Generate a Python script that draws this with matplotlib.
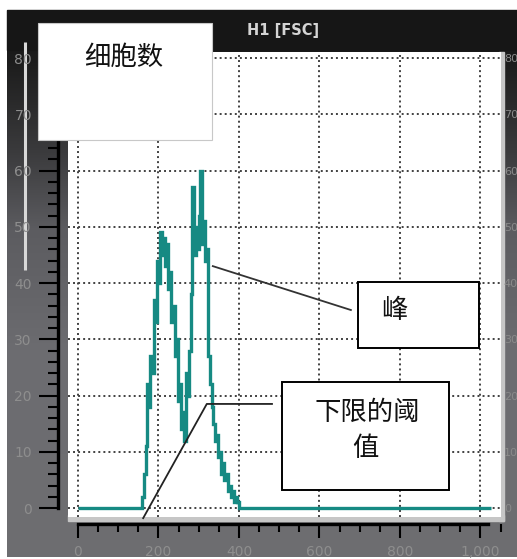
import matplotlib.pyplot as plt
import numpy as np
from matplotlib.patches import Rectangle
from matplotlib.ticker import MultipleLocator, FuncFormatter
from matplotlib.colors import to_rgb

# FSC histogram: 4-channel bins, counts per bin
bin_left = list(range(160, 404, 4))
counts = [2, 6, 11, 22, 18, 27, 24, 37, 33, 44, 40, 49, 45, 48, 43, 47,
          39, 42, 33, 36, 27, 30, 19, 22, 14, 17, 12, 24, 20, 28, 38, 57,
          45, 50, 46, 52, 60, 47, 51, 44, 46, 27, 22, 18, 15, 12, 13, 9,
          10, 6, 8, 5, 6, 3, 4, 2, 3, 1, 2, 1, 0]
channel_max = 1025
x_ticks = [0, 200, 400, 600, 800, 1000]
y_ticks = [0, 10, 20, 30, 40, 50, 60, 70, 80]

# annotation anchors (data units)
threshold_ch = 162
threshold_corner = (320, 18.5)
peak_point = (335, 43)

cjk = ['Noto Sans CJK SC', 'DejaVu Sans']
teal = '#168a83'

W, H = 517, 559
fig = plt.figure(figsize=(W / 100, H / 100), dpi=100)
fig.patch.set_facecolor('white')

# window chrome in pixel coordinates
bg = fig.add_axes([0, 0, 1, 1])
bg.set_xlim(0, W)
bg.set_ylim(H, 0)
bg.axis('off')
stops_y = [10, 60, 150, 230, 350, 557]
stops_c = ['#141414', '#1c1c1c', '#3a3a3c', '#5c5c60', '#6c6c70', '#6e6e70']
ys = np.arange(10, 557)
rgb = np.array([to_rgb(c) for c in stops_c])
grad = np.stack([np.interp(ys, stops_y, rgb[:, k]) for k in range(3)], axis=-1)
bg.imshow(grad[:, None, :], extent=(7, W, 557, 10), aspect='auto', zorder=0)
bg.add_patch(Rectangle((7, 10), W - 7, 40, color='#161616', zorder=1))
bg.plot([25, 25], [42, 270], color='#d8d8d8', lw=2.2, solid_capstyle='butt', zorder=1)
bg.add_patch(Rectangle((68, 515), 436, 6, color='#c6c6c6', zorder=1))
bg.add_patch(Rectangle((499, 52), 5, 469, color='#c6c6c6', zorder=1))
bg.text(283, 31, 'H1 [FSC]', color='#d4d4d4', fontsize=10.5, fontweight='bold',
        ha='center', va='center', zorder=2)

# histogram axes
ax = fig.add_axes([68 / W, 1 - 517 / H, 433 / W, 465 / H])
ax.set_facecolor('white')
ax.set_xlim(-24.8, 1051)
ax.set_ylim(-1.6, 81.07)

edges = [0] + bin_left + [bin_left[-1] + 4, channel_max]
values = [0] + counts + [0]
ax.stairs(values, edges, color=teal, lw=2.4, baseline=None, zorder=3)

ax.set_xticks(x_ticks)
ax.set_yticks(y_ticks)
ax.xaxis.set_minor_locator(MultipleLocator(50))
ax.yaxis.set_minor_locator(MultipleLocator(2))
ax.xaxis.set_major_formatter(FuncFormatter(lambda v, p: f'{v:,.0f}'))
ax.grid(True, which='major', linestyle=(0, (1, 1.6)), color='#404040', lw=1.4)

for s in ['top', 'right']:
    ax.spines[s].set_visible(False)
ax.spines['left'].set_position(('outward', 7))
ax.spines['left'].set_bounds(0, 81)
ax.spines['left'].set_linewidth(2.4)
ax.spines['bottom'].set_position(('outward', 5))
ax.spines['bottom'].set_bounds(0, 1018)
ax.spines['bottom'].set_linewidth(2.4)
ax.tick_params(which='major', direction='out', width=1.5, color='black',
               labelcolor='#8e8e8e', labelsize=10)
ax.tick_params(which='minor', direction='out', width=1.5, color='black')
ax.tick_params(axis='y', which='major', length=14, pad=5)
ax.tick_params(axis='y', which='minor', length=7)
ax.tick_params(axis='x', which='major', length=10, pad=5)
ax.tick_params(axis='x', which='minor', length=6)

# faint labels of the neighbouring panel on the right
rt = ax.twinx()
rt.set_ylim(ax.get_ylim())
rt.set_yticks(y_ticks)
rt.tick_params(length=0, pad=2, labelcolor='#8a8a8a', labelsize=8)
for s in rt.spines.values():
    s.set_visible(False)

# annotation lines
ax.plot([threshold_ch, threshold_corner[0], 482], [-1.8, threshold_corner[1], threshold_corner[1]],
        color='#222222', lw=1.3, clip_on=False, zorder=4)
ax.plot([peak_point[0], 678], [peak_point[1], 35.2], color='#333333', lw=1.3,
        clip_on=False, zorder=4)

# callout boxes on top
ov = fig.add_axes([0, 0, 1, 1], zorder=10)
ov.set_xlim(0, W)
ov.set_ylim(H, 0)
ov.axis('off')
ov.patch.set_alpha(0)
ov.add_patch(Rectangle((38, 23), 174, 117, facecolor='white', edgecolor='#c8c8c8', lw=0.8))
ov.text(124, 57, '细胞数', family=cjk, fontsize=19, ha='center', va='center', color='#111111')
ov.add_patch(Rectangle((358, 282), 121, 66, facecolor='white', edgecolor='black', lw=1.4))
ov.text(394, 310, '峰', family=cjk, fontsize=19, ha='center', va='center', color='#111111')
ov.add_patch(Rectangle((282, 382), 167, 108, facecolor='white', edgecolor='black', lw=1.4))
ov.text(367, 412, '下限的阈', family=cjk, fontsize=19, ha='center', va='center', color='#111111')
ov.text(365, 448, '值', family=cjk, fontsize=19, ha='center', va='center', color='#111111')

fig.savefig('out.png', dpi=100)
